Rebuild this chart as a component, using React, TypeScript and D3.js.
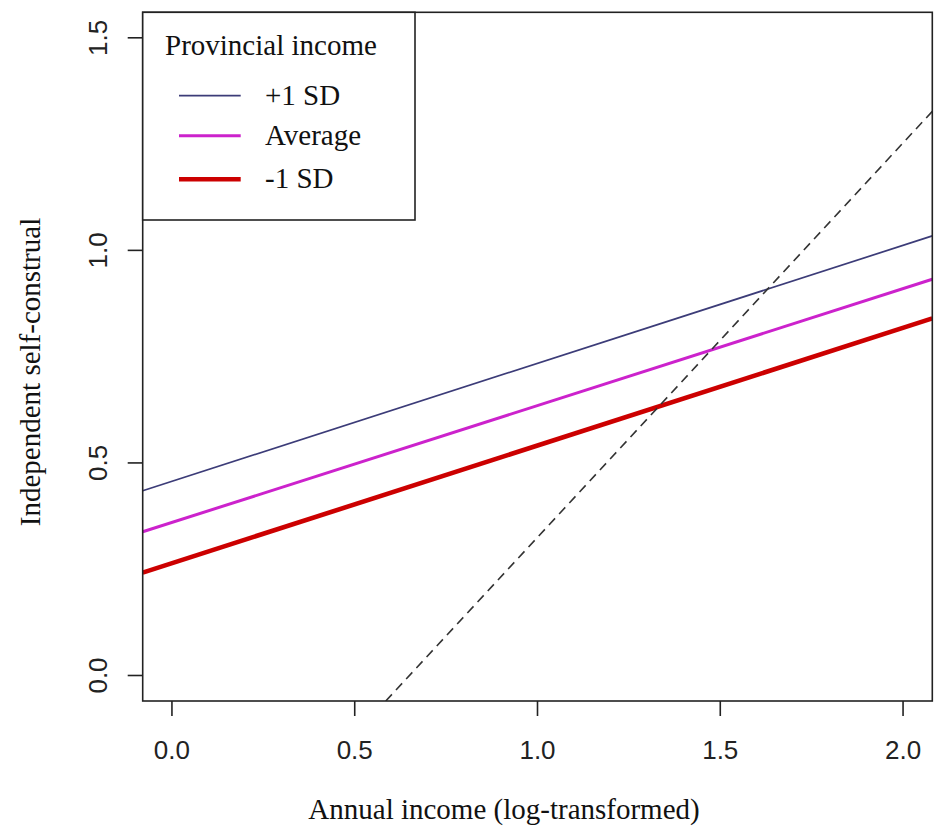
import * as d3 from "d3";

// x positions where the fitted lines meet the plot edges
const lineX = [-0.08, 2.08];
const plusOneSD = [0.4345, 1.034];
const averageSD = [0.338, 0.932];
const minusOneSD = [0.242, 0.84];

// dashed reference line
const dashX = [0.585, 2.08];
const dashY = [-0.06, 1.327];

const xTicks = [0, 0.5, 1.0, 1.5, 2.0];
const yTicks = [0, 0.5, 1.0, 1.5];

const legendLabels = ["+1 SD", "Average", "-1 SD"];
const legendColors = ["#3c3c78", "#cc22cc", "#cc0000"];
const legendWidths = [1.7, 3, 4.6];

const W = 950;
const H = 832;
const plot = { left: 142.7, right: 932.3, top: 12.3, bottom: 701 };

export default function App() {
  const x = d3.scaleLinear().domain([-0.08, 2.08]).range([plot.left, plot.right]);
  const y = d3.scaleLinear().domain([-0.06, 1.56]).range([plot.bottom, plot.top]);

  const line = d3
    .line<[number, number]>()
    .x((d) => x(d[0]))
    .y((d) => y(d[1]));

  const series = [plusOneSD, averageSD, minusOneSD];
  const sans = "'Liberation Sans', Arial, sans-serif";
  const serif = "'Liberation Serif', 'Times New Roman', serif";

  return (
    <svg
      width={W}
      height={H}
      style={{ position: "absolute", left: 0, top: 0, background: "#fff" }}
    >
      <defs>
        <clipPath id="plotclip">
          <rect
            x={plot.left}
            y={plot.top}
            width={plot.right - plot.left}
            height={plot.bottom - plot.top}
          />
        </clipPath>
      </defs>

      <g clipPath="url(#plotclip)">
        {series.map((s, i) => (
          <path
            key={legendLabels[i]}
            d={line(lineX.map((xv, j) => [xv, s[j]]) as [number, number][]) ?? ""}
            fill="none"
            stroke={legendColors[i]}
            strokeWidth={legendWidths[i]}
          />
        ))}
        <path
          d={line(dashX.map((xv, j) => [xv, dashY[j]]) as [number, number][]) ?? ""}
          fill="none"
          stroke="#333"
          strokeWidth={1.6}
          strokeDasharray="9,6"
        />
      </g>

      {/* plot box */}
      <rect
        x={plot.left}
        y={plot.top}
        width={plot.right - plot.left}
        height={plot.bottom - plot.top}
        fill="none"
        stroke="#222"
        strokeWidth={1.6}
      />

      {/* x axis */}
      {xTicks.map((t) => (
        <g key={t}>
          <line x1={x(t)} x2={x(t)} y1={plot.bottom} y2={plot.bottom + 15} stroke="#222" strokeWidth={1.6} />
          <text
            x={x(t)}
            y={759}
            textAnchor="middle"
            fontFamily={sans}
            fontSize={26}
            fill="#222"
          >
            {t.toFixed(1)}
          </text>
        </g>
      ))}

      {/* y axis */}
      {yTicks.map((t) => (
        <g key={t}>
          <line x1={plot.left - 15} x2={plot.left} y1={y(t)} y2={y(t)} stroke="#222" strokeWidth={1.6} />
          <text
            transform={`translate(107,${y(t)}) rotate(-90)`}
            textAnchor="middle"
            fontFamily={sans}
            fontSize={26}
            fill="#222"
          >
            {t.toFixed(1)}
          </text>
        </g>
      ))}

      <text
        x={504}
        y={819}
        textAnchor="middle"
        fontFamily={serif}
        fontSize={29}
        fill="#111"
      >
        Annual income (log-transformed)
      </text>
      <text
        transform="translate(40,372) rotate(-90)"
        textAnchor="middle"
        fontFamily={serif}
        fontSize={29}
        fill="#111"
      >
        Independent self-construal
      </text>

      {/* legend */}
      <rect x={plot.left} y={plot.top} width={415 - plot.left} height={220 - plot.top} fill="#fff" stroke="#222" strokeWidth={1.6} />
      <text x={165} y={55} fontFamily={serif} fontSize={29} fill="#111">
        Provincial income
      </text>
      {legendLabels.map((lab, i) => {
        const ly = [95.7, 135.7, 179.3][i];
        return (
          <g key={lab}>
            <line x1={179} x2={240.7} y1={ly} y2={ly} stroke={legendColors[i]} strokeWidth={legendWidths[i]} />
            <text x={265} y={ly + 9} fontFamily={serif} fontSize={29} fill="#111">
              {lab}
            </text>
          </g>
        );
      })}
    </svg>
  );
}
